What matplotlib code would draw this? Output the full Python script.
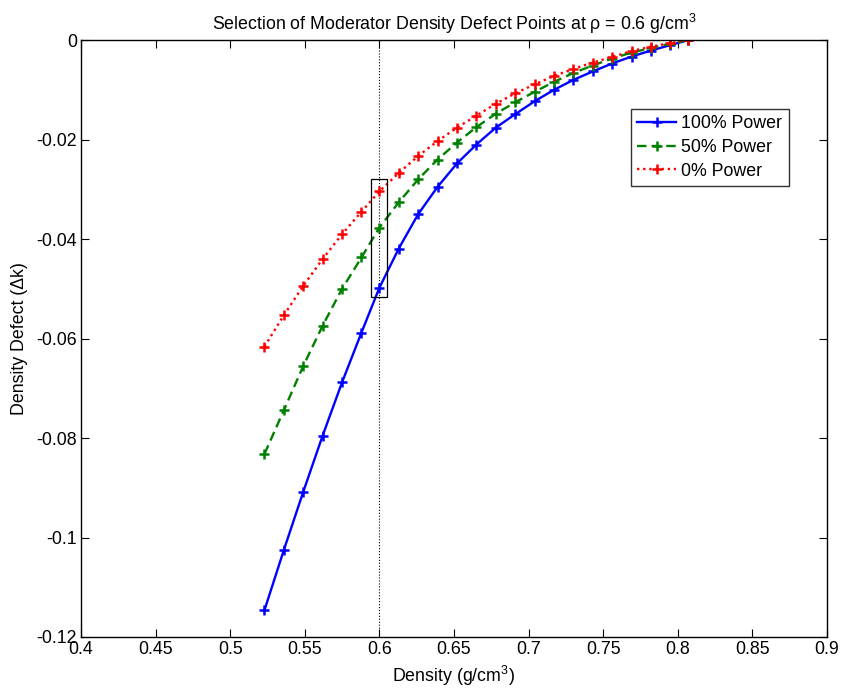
import matplotlib
matplotlib.use("Agg")
import matplotlib.pyplot as plt
from matplotlib.patches import Rectangle

plt.rcParams['font.family'] = ['Liberation Sans', 'DejaVu Sans']
plt.rcParams['mathtext.fontset'] = 'custom'
plt.rcParams['mathtext.rm'] = 'Liberation Sans'
plt.rcParams['mathtext.it'] = 'Liberation Sans:italic'

density = [0.523, 0.536, 0.549, 0.562, 0.575, 0.588, 0.600, 0.613, 0.626, 0.639,
           0.652, 0.665, 0.678, 0.691, 0.704, 0.717, 0.730, 0.743, 0.756, 0.769,
           0.782, 0.795, 0.807]

power_100 = [-0.1146, -0.1025, -0.0908, -0.0795, -0.0688, -0.0588, -0.0498, -0.0419,
             -0.0350, -0.0295, -0.0248, -0.0210, -0.0176, -0.0149, -0.0123, -0.0100,
             -0.0080, -0.0063, -0.0047, -0.0033, -0.0021, -0.0010, 0.0]

power_50 = [-0.0832, -0.0744, -0.0655, -0.0574, -0.0500, -0.0437, -0.0377, -0.0326,
            -0.0280, -0.0240, -0.0206, -0.0175, -0.0148, -0.0125, -0.0104, -0.0084,
            -0.0066, -0.0051, -0.0037, -0.0025, -0.0016, -0.0007, 0.0]

power_0 = [-0.0616, -0.0553, -0.0494, -0.0440, -0.0390, -0.0345, -0.0304, -0.0267,
           -0.0233, -0.0203, -0.0176, -0.0152, -0.0128, -0.0107, -0.0089, -0.0072,
           -0.0058, -0.0045, -0.0034, -0.0022, -0.0013, -0.0006, 0.0]

series_labels = ['100% Power', '50% Power', '0% Power']

selected_density = 0.6
box_x = [0.5946, 0.6054]
box_y = [-0.0517, -0.0279]

x_ticks = [0.4, 0.45, 0.5, 0.55, 0.6, 0.65, 0.7, 0.75, 0.8, 0.85, 0.9]
x_ticklabels = ['0.4', '0.45', '0.5', '0.55', '0.6', '0.65', '0.7', '0.75', '0.8', '0.85', '0.9']
y_ticks = [0, -0.02, -0.04, -0.06, -0.08, -0.1, -0.12]
y_ticklabels = ['0', '-0.02', '-0.04', '-0.06', '-0.08', '-0.1', '-0.12']

FS = 12.8

fig = plt.figure(figsize=(8.46, 6.92), dpi=100)
ax = fig.add_axes([0.0957, 0.0795, 0.8818, 0.8625])

mk = dict(marker='+', markersize=7, markeredgewidth=1.8)
ax.plot(density, power_100, color='#0000ff', linestyle='-', linewidth=1.7,
        label=series_labels[0], **mk)
ax.plot(density, power_50, color='#008000', linestyle='--', linewidth=1.7,
        dashes=(4.0, 2.2), label=series_labels[1], **mk)
ax.plot(density, power_0, color='#ff0000', linestyle=':', linewidth=1.7,
        dashes=(1.0, 1.6), label=series_labels[2], **mk)

ax.axvline(selected_density, color='black', linestyle=':', linewidth=0.8, zorder=1)
ax.add_patch(Rectangle((box_x[0], box_y[0]), box_x[1] - box_x[0], box_y[1] - box_y[0],
                       fill=False, edgecolor='black', linewidth=0.9, zorder=5))

ax.set_xlim(0.4, 0.9)
ax.set_ylim(-0.12, 0)
ax.set_xticks(x_ticks)
ax.set_xticklabels(x_ticklabels)
ax.set_yticks(y_ticks)
ax.set_yticklabels(y_ticklabels)
ax.tick_params(direction='in', length=6, width=0.8, top=True, right=True,
               labelsize=FS, pad=3)
for s in ax.spines.values():
    s.set_linewidth(1.0)

ax.set_title(r'Selection of Moderator Density Defect Points at ρ = 0.6 g/cm$^3$',
             fontsize=FS, pad=7)
ax.set_xlabel(r'Density (g/cm$^3$)', fontsize=FS, labelpad=4)
ax.set_ylabel('Density Defect (Δk)', fontsize=FS, labelpad=6)

leg = ax.legend(loc='upper left', bbox_to_anchor=(0.737, 0.885), fontsize=FS,
                frameon=True, fancybox=False, edgecolor='black', handlelength=2.2,
                borderpad=0.35, labelspacing=0.38, handletextpad=0.3, borderaxespad=0)
leg.get_frame().set_linewidth(1.0)

fig.savefig('out.png', dpi=100)
